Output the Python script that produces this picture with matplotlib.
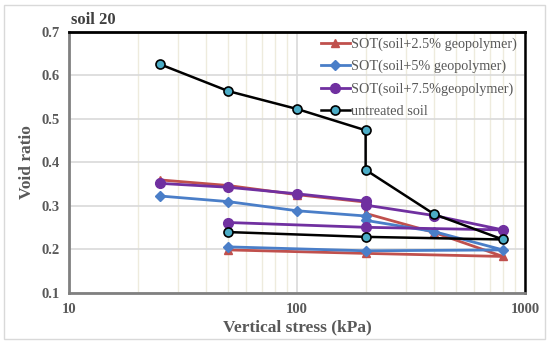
import matplotlib
matplotlib.use('agg')
import matplotlib.pyplot as plt
from matplotlib.patches import Rectangle
from matplotlib.ticker import LogLocator, NullFormatter

plt.rcParams['font.family'] = ['Liberation Serif', 'DejaVu Serif']

# vertical stress (kPa), loading then unloading
stress_red = [25, 50, 100, 200, 200, 400, 800, 200, 50]
void_red = [0.360, 0.347, 0.326, 0.309, 0.283, 0.239, 0.184, 0.191, 0.199]

stress_blue = [25, 50, 100, 200, 200, 400, 800, 200, 50]
void_blue = [0.323, 0.310, 0.289, 0.277, 0.267, 0.241, 0.199, 0.197, 0.206]

stress_purple = [25, 50, 100, 200, 200, 400, 800, 200, 50]
void_purple = [0.352, 0.343, 0.328, 0.311, 0.302, 0.278, 0.245, 0.251, 0.262]

stress_untr = [25, 50, 100, 200, 200, 400, 800, 200, 50]
void_untr = [0.626, 0.564, 0.523, 0.474, 0.383, 0.281, 0.223, 0.229, 0.240]

labels = ['SOT(soil+2.5% geopolymer)', 'SOT(soil+5% geopolymer)',
          'SOT(soil+7.5%geopolymer)', 'untreated soil']

grey = '#595959'

fig = plt.figure(figsize=(5.5, 3.43), dpi=100)
ax = fig.add_axes([0.1255, 0.1458, 0.829, 0.761])

ax.plot(stress_red, void_red, color='#C0504D', lw=2, marker='^', ms=6, label=labels[0], zorder=3)
ax.plot(stress_blue, void_blue, color='#4A7EC8', lw=2, marker='D', ms=5.5, label=labels[1], zorder=3)
ax.plot(stress_purple, void_purple, color='#7030A0', lw=2, marker='o', ms=7, label=labels[2], zorder=3)
ax.plot(stress_untr, void_untr, color='k', lw=1.8, marker='o', ms=6.5, mfc='#4BACC6',
        mec='k', mew=1.2, label=labels[3], zorder=4)

ax.set_xscale('log')
ax.set_xlim(10, 1000)
ax.set_ylim(0.1, 0.7)
ax.set_yticks([0.1, 0.2, 0.3, 0.4, 0.5, 0.6, 0.7])
ax.set_xticks([10, 100, 1000])
ax.set_xticklabels(['10', '100', '1000'])
ax.xaxis.set_minor_locator(LogLocator(base=10, subs=range(2, 10)))
ax.xaxis.set_minor_formatter(NullFormatter())

ax.grid(True, which='major', color='#D9D9D9', lw=1.2)
ax.grid(True, which='minor', axis='x', color='#EEEBDD', lw=1.0)
ax.set_axisbelow(True)

ax.tick_params(which='both', length=0, pad=7)
for lab in ax.get_xticklabels() + ax.get_yticklabels():
    lab.set_fontweight('bold')
    lab.set_color(grey)
    lab.set_fontsize(10.5)
ax.tick_params(axis='x', pad=7)

ax.spines['left'].set_color('#808080')
ax.spines['bottom'].set_color('#808080')
ax.spines['left'].set_linewidth(2)
ax.spines['bottom'].set_linewidth(2)
ax.spines['top'].set_color('k')
ax.spines['right'].set_color('k')
ax.spines['top'].set_linewidth(2)
ax.spines['right'].set_linewidth(1.8)

ax.set_xlabel('Vertical stress (kPa)', fontsize=12.5, fontweight='bold', color=grey, labelpad=3)
ax.set_ylabel('Void ratio', fontsize=12.5, fontweight='bold', color=grey, labelpad=4)
ax.text(0.005, 1.015, 'soil 20', transform=ax.transAxes, fontsize=12,
        fontweight='bold', color='#404040', ha='left', va='bottom')

leg = ax.legend(loc='upper right', frameon=False, fontsize=10.25, handlelength=2.0,
                handletextpad=0.1, labelspacing=0.62, borderaxespad=0.0,
                bbox_to_anchor=(0.995, 1.0))
for t in leg.get_texts():
    t.set_color(grey)

fig.patches.append(Rectangle((0.007, 0.012), 0.984, 0.974, transform=fig.transFigure,
                             fill=False, edgecolor='#D9D9D9', lw=1))

fig.savefig('out.png', dpi=100)
